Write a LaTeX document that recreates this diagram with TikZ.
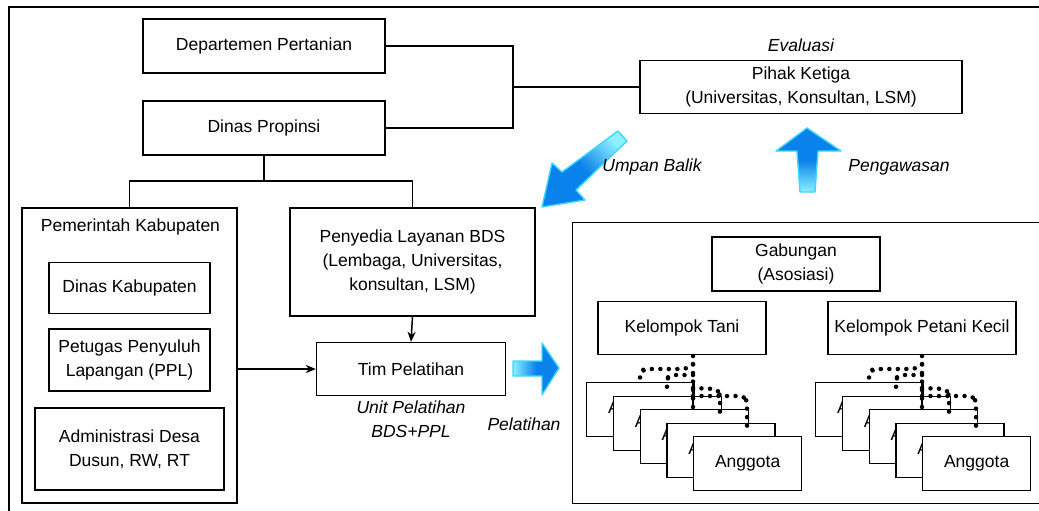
\documentclass[tikz,border=0pt]{standalone}
\usepackage{fontspec}
\setmainfont{Liberation Sans}
\usetikzlibrary{arrows.meta}
\definecolor{ablue}{RGB}{10,130,235}
\definecolor{acyan}{RGB}{60,215,255}
\definecolor{alight}{RGB}{140,240,255}
\newcommand\fs{\fontsize{17.5}{24}\selectfont}
\begin{document}
\begin{tikzpicture}[x=1pt,y=-1pt,
  box/.style={draw, line width=1.3pt, fill=white, inner sep=0pt, align=center, font=\fs},
  lbl/.style={inner sep=0pt, align=center, font=\fs\itshape},
  conn/.style={line width=1.5pt},
  arr/.style={line width=1.5pt, -{Stealth[length=10pt,width=8pt,inset=3pt]}},
  dots/.style={line width=4.5pt, line cap=round, dash pattern=on 0pt off 8.5pt},
  barrow/.style={draw=acyan, line width=1.4pt, line join=round}]
\useasboundingbox (0,0) rectangle (1039,511);
\clip (0,0) rectangle (1039,511);
% outer frame
\draw[line width=2.4pt] (9,520) -- (9,7) -- (1050,7);
% top boxes
\node[box, minimum width=242, minimum height=54] (dept) at (264,46) {Departemen Pertanian};
\node[box, minimum width=242, minimum height=54] (dinas) at (264,128) {Dinas Propinsi};
\node[box, minimum width=322, minimum height=53] (pihak) at (801,87) {Pihak Ketiga\\(Universitas, Konsultan, LSM)};
\node[lbl] (eval) at (801,45) {Evaluasi};
\coordinate (j1) at (513,87);
\draw[conn] (dept.east) -| (j1);
\draw[conn] (dinas.east) -| (j1);
\draw[conn] (j1) -- (pihak.west);
% left containers
\node[box, minimum width=215, minimum height=295] (pemkab) at (129.5,355.5) {};
\node[inner sep=0pt, font=\fs] (pemkabt) at (130.5,227) {Pemerintah Kabupaten};
\node[box, minimum width=161, minimum height=51] (dkab) at (129.5,288) {Dinas Kabupaten};
\node[box, minimum width=161, minimum height=62] (ppl) at (129.5,360) {Petugas Penyuluh\\Lapangan (PPL)};
\node[box, minimum width=189, minimum height=82] (adm) at (129.5,449) {Administrasi Desa\\Dusun, RW, RT};
\node[box, minimum width=245, minimum height=108] (bds) at (412.5,262) {Penyedia Layanan BDS\\(Lembaga, Universitas,\\konsultan, LSM)};
\node[box, minimum width=189, minimum height=53] (tim) at (411,369) {Tim Pelatihan};
\node[lbl] (unit) at (411,419) {Unit Pelatihan\\BDS+PPL};
\node[lbl] (pel) at (524,424) {Pelatihan};
\coordinate (j2) at (264,181);
\draw[conn] (dinas.south) -- (j2);
\draw[conn] (pemkab.north) |- (j2) -| (bds.north);
\draw[arr] (bds.south) -- (tim.north);
\draw[arr] (pemkab.east |- tim.west) -- (tim.west);
% right container
\node[box, minimum width=480, minimum height=281, anchor=north west] (grp) at (572,222) {};
\node[box, minimum width=168, minimum height=54] (gab) at (796,264) {Gabungan\\(Asosiasi)};
\node[box, minimum width=168, minimum height=53] (kt) at (682,328) {Kelompok Tani};
\node[box, minimum width=188, minimum height=53] (kpk) at (922,328) {Kelompok Petani Kecil};
% anggota stacks
\foreach \s/\p in {0/a,229/b}{
  \foreach \i in {0,...,4}{
    \node[box, minimum width=108, minimum height=54, anchor=north west] (\p\i) at ({586+\s+26.75*\i},{382+13.5*\i}) {Anggota};
  }
  \begin{scope}[xshift=\s pt]
    \draw[dots] (693,356) -- (693,409);
    \draw[line width=1.3pt] (693,382) -- (693,409);
    \draw[dots, rounded corners=5pt] (693,364) -- (687,369) -- (644,369) -- (640,373) -- (640,382);
    \draw[dots, rounded corners=4pt] (693,375) -- (670,375) -- (667,378) -- (667,392);
    \draw[dots, rounded corners=4pt] (693,388) -- (716,389) -- (720,393) -- (720,418);
    \draw[dots, rounded corners=4pt] (693,396) -- (743,396) -- (747,400) -- (747,428);
  \end{scope}
}
% blue arrows
\path[barrow, top color=alight, bottom color=ablue, middle color=ablue, shading angle=-45]
  (542,207) -- (552,163) -- (562,172) -- (618,131) -- (627,141) -- (576,190) -- (585,200) -- cycle;
\node[lbl] (umpan) at (652,167) {Umpan Balik};
\path[barrow, top color=ablue, bottom color=alight, middle color=ablue]
  (807,128) -- (841,151) -- (818,151) -- (815,192) -- (800,192) -- (797,151) -- (776,151) -- cycle;
\node[lbl] (peng) at (899,167) {Pengawasan};
\path[barrow, left color=alight, right color=ablue, middle color=ablue]
  (513,361) -- (542,361) -- (542,343) -- (559,368) -- (542,395) -- (542,376) -- (513,376) -- cycle;
\end{tikzpicture}
\end{document}
